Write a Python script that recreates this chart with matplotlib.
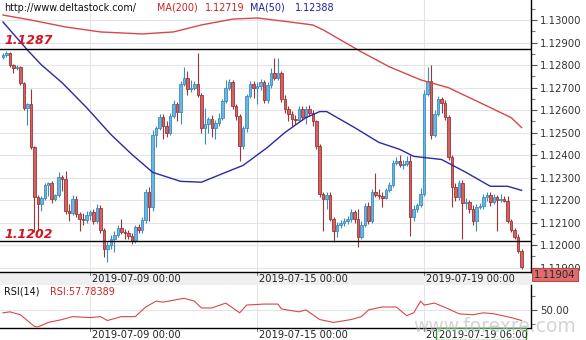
import numpy as np
import matplotlib.pyplot as plt
from matplotlib.patches import Rectangle
from matplotlib.ticker import FormatStrFormatter

plt.rcParams['font.family'] = 'DejaVu Sans'

# EUR/USD, 2-hour candles (open of each bar = previous close)
first_open = 1.12836
closes = [
    1.12845, 1.12854, 1.12801, 1.12788, 1.12792, 1.12721, 1.12611, 1.12628, 1.12434, 1.12212,
    1.12181, 1.12208, 1.12265, 1.12274, 1.12203, 1.12221, 1.12301, 1.12292, 1.12150, 1.12142,
    1.12203, 1.12137, 1.12115, 1.12111, 1.12133, 1.12146, 1.12106, 1.12164, 1.12066, 1.11982,
    1.12000, 1.12026, 1.12044, 1.12075, 1.12057, 1.12053, 1.12040, 1.12018, 1.12080, 1.12066,
    1.12111, 1.12234, 1.12168, 1.12491, 1.12518, 1.12571, 1.12531, 1.12496, 1.12575, 1.12628,
    1.12593, 1.12717, 1.12743, 1.12695, 1.12699, 1.12717, 1.12668, 1.12522, 1.12540, 1.12562,
    1.12522, 1.12544, 1.12566, 1.12642, 1.12699, 1.12726, 1.12619, 1.12575, 1.12442, 1.12518,
    1.12664, 1.12717, 1.12699, 1.12708, 1.12726, 1.12646, 1.12712, 1.12765, 1.12743, 1.12765,
    1.12650, 1.12606, 1.12584, 1.12562, 1.12557, 1.12606, 1.12571, 1.12606, 1.12588, 1.12549,
    1.12438, 1.12226, 1.12203, 1.12221, 1.12115, 1.12062, 1.12088, 1.12097, 1.12106, 1.12115,
    1.12146, 1.12115, 1.12035, 1.12088, 1.12173, 1.12106, 1.12234, 1.12221, 1.12217, 1.12210,
    1.12243, 1.12265, 1.12363, 1.12372, 1.12354, 1.12358, 1.12372, 1.12124, 1.12159, 1.12177,
    1.12226, 1.12673, 1.12730, 1.12487, 1.12584, 1.12650, 1.12633, 1.12571, 1.12389, 1.12257,
    1.12212, 1.12274, 1.12186, 1.12190, 1.12159, 1.12106, 1.12168, 1.12173, 1.12212, 1.12221,
    1.12190, 1.12212, 1.12199, 1.12203, 1.12196, 1.12106, 1.12066, 1.12035, 1.11973, 1.11904,
]
highs = [
    1.12854, 1.12863, 1.12858, 1.12805, 1.12801, 1.12796, 1.12726, 1.12633, 1.12695, 1.12438,
    1.12221, 1.12217, 1.12274, 1.12279, 1.12283, 1.12226, 1.12323, 1.12310, 1.12327, 1.12181,
    1.12221, 1.12217, 1.12146, 1.12142, 1.12150, 1.12155, 1.12159, 1.12181, 1.12177, 1.12075,
    1.12018, 1.12044, 1.12062, 1.12088, 1.12115, 1.12071, 1.12066, 1.12053, 1.12088, 1.12093,
    1.12124, 1.12248, 1.12257, 1.12509, 1.12527, 1.12584, 1.12584, 1.12549, 1.12588, 1.12646,
    1.12637, 1.12730, 1.12792, 1.12774, 1.12734, 1.12730, 1.12854, 1.12677, 1.12611, 1.12571,
    1.12580, 1.12557, 1.12588, 1.12650, 1.12734, 1.12739, 1.12734, 1.12628, 1.12584, 1.12527,
    1.12673, 1.12730, 1.12730, 1.12726, 1.12739, 1.12734, 1.12726, 1.12788, 1.12832, 1.12832,
    1.12774, 1.12668, 1.12619, 1.12597, 1.12580, 1.12619, 1.12619, 1.12619, 1.12624, 1.12602,
    1.12557, 1.12447, 1.12234, 1.12234, 1.12234, 1.12124, 1.12102, 1.12111, 1.12119, 1.12128,
    1.12159, 1.12155, 1.12159, 1.12106, 1.12186, 1.12190, 1.12248, 1.12319, 1.12248, 1.12234,
    1.12252, 1.12279, 1.12376, 1.12389, 1.12398, 1.12380, 1.12394, 1.12398, 1.12177, 1.12186,
    1.12252, 1.12690, 1.12792, 1.12801, 1.12602, 1.12664, 1.12659, 1.12646, 1.12580, 1.12398,
    1.12274, 1.12288, 1.12288, 1.12208, 1.12199, 1.12177, 1.12181, 1.12186, 1.12226, 1.12234,
    1.12234, 1.12226, 1.12221, 1.12226, 1.12217, 1.12217, 1.12115, 1.12075, 1.12049, 1.11982,
]
lows = [
    1.12827, 1.12836, 1.12792, 1.12765, 1.12779, 1.12712, 1.12602, 1.12535, 1.12425, 1.12057,
    1.12062, 1.12150, 1.12199, 1.12217, 1.12186, 1.12195, 1.12212, 1.12239, 1.12137, 1.12106,
    1.12133, 1.12124, 1.12062, 1.12088, 1.12097, 1.12111, 1.12093, 1.12097, 1.12053, 1.11947,
    1.11925, 1.11982, 1.11969, 1.12035, 1.12049, 1.12026, 1.12026, 1.12004, 1.12009, 1.12053,
    1.12053, 1.12097, 1.12106, 1.12150, 1.12434, 1.12509, 1.12469, 1.12478, 1.12487, 1.12566,
    1.12549, 1.12540, 1.12708, 1.12668, 1.12681, 1.12690, 1.12659, 1.12500, 1.12447, 1.12500,
    1.12478, 1.12469, 1.12531, 1.12557, 1.12633, 1.12690, 1.12606, 1.12557, 1.12372, 1.12425,
    1.12504, 1.12655, 1.12655, 1.12628, 1.12690, 1.12633, 1.12633, 1.12699, 1.12734, 1.12734,
    1.12637, 1.12588, 1.12549, 1.12531, 1.12540, 1.12549, 1.12557, 1.12540, 1.12575, 1.12531,
    1.12425, 1.12212, 1.12062, 1.12159, 1.12106, 1.12013, 1.12035, 1.12075, 1.12084, 1.12093,
    1.12102, 1.12097, 1.11991, 1.12026, 1.12080, 1.12093, 1.12097, 1.12212, 1.12203, 1.12168,
    1.12203, 1.12234, 1.12257, 1.12354, 1.12345, 1.12336, 1.12350, 1.12040, 1.12106, 1.12146,
    1.12168, 1.12217, 1.12664, 1.12469, 1.12478, 1.12575, 1.12588, 1.12557, 1.12376, 1.12168,
    1.12195, 1.12199, 1.12026, 1.12159, 1.12142, 1.12088, 1.12062, 1.12159, 1.12159, 1.12195,
    1.12173, 1.12181, 1.12062, 1.12190, 1.12190, 1.12097, 1.12057, 1.12026, 1.11965, 1.11894,
]

# moving averages, sampled along the bar index
ma50_idx = [0, 7, 11, 17, 24, 31, 37, 43, 51, 57, 64, 69, 76, 81, 87, 91, 93, 101,
            108, 114, 118, 126, 133, 140, 145, 149]
ma50_val = [1.12991, 1.12867, 1.12801, 1.12721, 1.12611, 1.12491, 1.12403, 1.12323,
            1.12283, 1.12279, 1.12323, 1.12354, 1.12434, 1.12500, 1.12566, 1.12593,
            1.12593, 1.12522, 1.12456, 1.12425, 1.12394, 1.12380, 1.12323, 1.12261,
            1.12261, 1.12243]
ma200_idx = [0, 8, 18, 28, 40, 49, 57, 66, 73, 80, 89, 92, 103, 111, 120, 128, 137, 146, 149]
ma200_val = [1.13022, 1.13000, 1.12969, 1.12947, 1.12938, 1.12947, 1.12978, 1.13004,
             1.13009, 1.12996, 1.12978, 1.12956, 1.12858, 1.12792, 1.12734, 1.12699,
             1.12633, 1.12566, 1.12522]

# RSI(14)
rsi_idx = [0, 2, 5, 9, 10, 13, 17, 20, 25, 28, 30, 34, 38, 41, 44, 46, 49, 52, 55, 57,
           60, 64, 68, 70, 75, 79, 80, 85, 87, 91, 95, 100, 103, 105, 109, 113, 116, 118,
           120, 121, 124, 128, 131, 135, 138, 141, 146, 149]
rsi_val = [45.9, 47.3, 43.1, 26.4, 25.5, 32.0, 36.2, 40.4, 39.0, 40.4, 34.8, 40.4, 40.4,
           54.3, 62.7, 61.3, 64.1, 66.9, 62.7, 52.9, 52.9, 59.9, 45.9, 57.1, 58.5, 58.5,
           51.5, 47.3, 50.1, 36.2, 32.0, 36.2, 40.4, 50.1, 54.3, 54.3, 41.8, 45.9, 62.7,
           57.1, 59.9, 51.5, 44.5, 43.1, 45.9, 44.5, 39.0, 34.8]

date_idx = [25, 73, 121]
date_labels = ['2019-07-09 00:00', '2019-07-15 00:00', '2019-07-19 00:00']
level_hi = 1.1287
level_lo = 1.1202
last_price = 1.11904

W, H = 586, 340
fig = plt.figure(figsize=(W / 100, H / 100), dpi=100)
fig.patch.set_facecolor('white')

ax = fig.add_axes([0, 68 / H, 531 / W, 272 / H])
rsi_ax = fig.add_axes([0, 12 / H, 531 / W, 43 / H])

# grey band holding the date labels between the panels
fig.patches.append(Rectangle((0, 55 / H), 531 / W, 13 / H, transform=fig.transFigure,
                             facecolor='#efefef', edgecolor='none', zorder=-1))

# --- candles ---
c = np.array(closes)
o = np.r_[first_open, c[:-1]]
hi = np.maximum(np.array(highs), np.maximum(o, c))
lo = np.minimum(np.array(lows), np.minimum(o, c))
x = np.arange(len(c))
up = c >= o
fill = np.where(up, '#6cb6e2', '#d46262')
edge = np.where(up, '#3a8cc2', '#9e3434')
ax.vlines(x, lo, hi, colors=edge, lw=0.8, zorder=3)
body_lo = np.minimum(o, c)
body_h = np.maximum(np.abs(c - o), 0.00003)
ax.bar(x, body_h, bottom=body_lo, width=0.72, color=fill, edgecolor=edge,
       linewidth=0.6, zorder=4)

ax.plot(ma200_idx, ma200_val, color='#d84848', lw=1.0, zorder=5)
ax.plot(ma50_idx, ma50_val, color='#2a2aa6', lw=1.0, zorder=5)

ax.axhline(level_hi, color='black', lw=1.0, zorder=6)
ax.axhline(level_lo, color='black', lw=1.0, zorder=6)

xlim = (-0.86, 151.7)
ax.set_xlim(*xlim)
ax.set_ylim(1.11880, 1.130889)
ax.set_yticks(np.round(np.arange(1.119, 1.1305, 0.001), 3))
ax.set_yticks(np.round(np.arange(1.1195, 1.1305, 0.001), 4), minor=True)
ax.yaxis.set_major_formatter(FormatStrFormatter('%.5f'))
ax.yaxis.tick_right()
ax.tick_params(axis='y', which='major', direction='out', length=4, width=0.8,
               pad=2.5, labelsize=7.3, colors='#555555', labelcolor='#333333')
ax.tick_params(axis='y', which='minor', direction='out', length=3, width=0.8,
               colors='#777777')
ax.set_xticks([])
ax.grid(axis='y', which='major', color='#e4e4e4', lw=0.8, zorder=0)
for i in date_idx:
    ax.axvline(i, color='#e4e4e4', lw=0.8, zorder=0)
for s in ('top', 'left'):
    ax.spines[s].set_visible(False)
for s in ('right', 'bottom'):
    ax.spines[s].set_color('black')
    ax.spines[s].set_linewidth(1.0)

# date labels in the band under the price panel
for i, lab in zip(date_idx, date_labels):
    ax.plot([i, i], [0, -3 / 272], transform=ax.get_xaxis_transform(),
            color='#777777', lw=0.7, clip_on=False)
    ax.text(i + 0.45, -7.5 / 272, lab, transform=ax.get_xaxis_transform(),
            ha='left', va='center', fontsize=7.1, color='#222222', clip_on=False)

# header line
hy = 1 - 8 / 272
for px, txt, col in [(4, 'http://www.deltastock.com/', '#111111'),
                     (157, 'MA(200)', '#cc2222'), (205, '1.12719', '#cc2222'),
                     (250, 'MA(50)', '#1f1fa0'), (295, '1.12388', '#1f1fa0')]:
    ax.text(px / 531, hy, txt, transform=ax.transAxes, ha='left', va='center',
            fontsize=6.9, color=col, zorder=7)

ax.text(4 / 531, 1 - 41 / 272, '1.1287', transform=ax.transAxes, ha='left',
        va='center', fontsize=9, color='#d4141e', fontweight='bold', style='italic', zorder=7)
ax.text(4 / 531, 1 - 234 / 272, '1.1202', transform=ax.transAxes, ha='left',
        va='center', fontsize=9, color='#d4141e', fontweight='bold', style='italic', zorder=7)

# last price tag on the right scale
fig.patches.append(Rectangle((532 / W, 1 - 281 / H), 46 / W, 13 / H,
                             transform=fig.transFigure, facecolor='#e06c6c',
                             edgecolor='#b94a4a', lw=0.8, zorder=5))
fig.text(555 / W, 1 - 274.5 / H, f'{last_price:.5f}', ha='center', va='center',
         fontsize=7.3, color='#2a2a2a', zorder=6)

# --- RSI panel ---
rsi_ax.plot(rsi_idx, rsi_val, color='#d84848', lw=0.8, zorder=3)
rsi_ax.set_xlim(*xlim)
rsi_ax.set_ylim(24, 86)
rsi_ax.set_yticks([50])
rsi_ax.set_yticks([30, 70], minor=True)
rsi_ax.yaxis.set_major_formatter(FormatStrFormatter('%.2f'))
rsi_ax.yaxis.tick_right()
rsi_ax.tick_params(axis='y', which='major', direction='out', length=4, width=0.8,
                   pad=2.5, labelsize=7.3, colors='#555555', labelcolor='#333333')
rsi_ax.tick_params(axis='y', which='minor', direction='out', length=3, width=0.8,
                   colors='#777777')
rsi_ax.set_xticks([])
rsi_ax.axhline(50, color='#e4e4e4', lw=0.8, zorder=0)
for i in date_idx:
    rsi_ax.axvline(i, color='#e4e4e4', lw=0.8, zorder=0)
for s in ('top', 'left'):
    rsi_ax.spines[s].set_visible(False)
for s in ('right', 'bottom'):
    rsi_ax.spines[s].set_color('black')
    rsi_ax.spines[s].set_linewidth(1.0)

rsi_ax.text(4 / 531, 1 - 7 / 43, 'RSI(14)', transform=rsi_ax.transAxes, ha='left',
            va='center', fontsize=6.9, color='#111111')
rsi_ax.text(50 / 531, 1 - 7 / 43, 'RSI:57.78389', transform=rsi_ax.transAxes,
            ha='left', va='center', fontsize=6.9, color='#cc2222')

for i, lab in zip(date_idx, date_labels):
    rsi_ax.plot([i, i], [0, -3 / 43], transform=rsi_ax.get_xaxis_transform(),
                color='#777777', lw=0.7, clip_on=False)
    rsi_ax.text(i + 0.45, -7 / 43, lab, transform=rsi_ax.get_xaxis_transform(),
                ha='left', va='center', fontsize=7.1, color='#222222', clip_on=False)

# crosshair time tag
fig.patches.append(Rectangle((436 / W, 0), 90 / W, 12 / H, transform=fig.transFigure,
                             facecolor='white', edgecolor='#3a9a3a', lw=1.0, zorder=5))
fig.text(439 / W, 1 - 334.5 / H, '2019-07-19 06:00', ha='left', va='center',
         fontsize=7.1, color='#222222', zorder=6)

fig.text(413 / W, 1 - 326 / H, 'www.forexre.com', ha='left', va='center',
         fontsize=13.5, color='#b8b8b8', alpha=0.6, zorder=10)

fig.savefig('out.png', dpi=100)
